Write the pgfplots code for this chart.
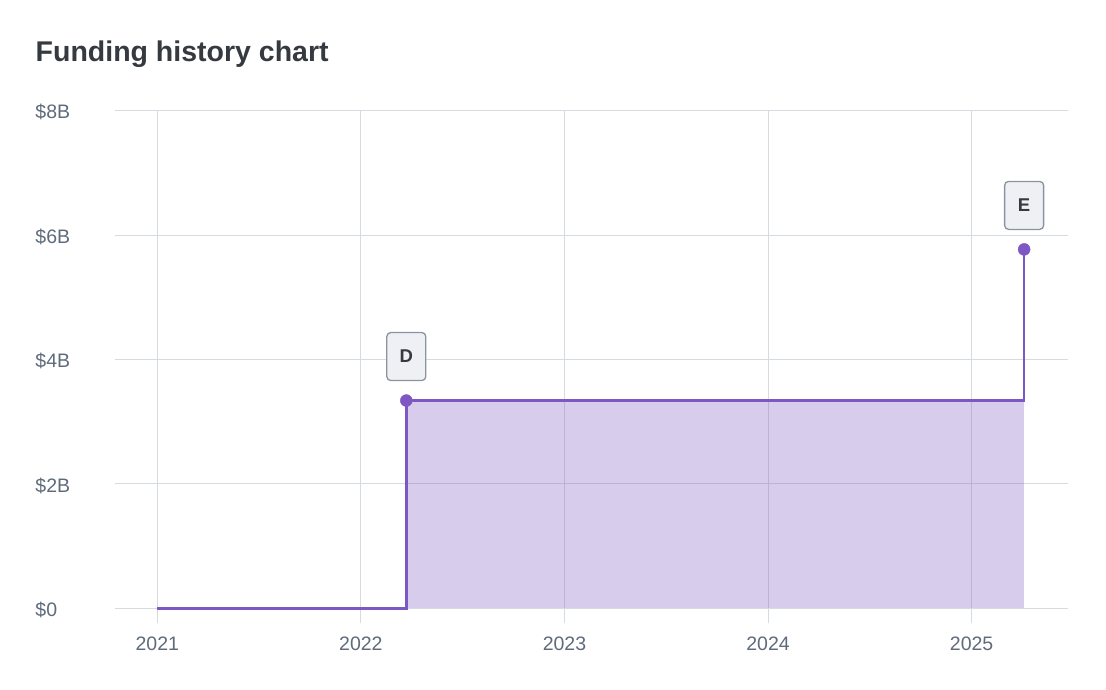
\documentclass[border=0pt]{standalone}
\usepackage{fontspec}
\setmainfont{Liberation Sans}
\usepackage{pgfplots}
\pgfplotsset{compat=1.18}
\definecolor{titlec}{HTML}{343A40}
\definecolor{tickc}{HTML}{5F6B7A}
\definecolor{gridc}{HTML}{D6DAE1}
\definecolor{purp}{HTML}{7E57C2}
\definecolor{boxfill}{HTML}{EEF0F4}
\definecolor{boxdraw}{HTML}{8B949E}
\begin{document}
\begin{tikzpicture}[x=1pt,y=1pt]
\path[use as bounding box] (0,0) rectangle (1106,690);
\node[anchor=base west, inner sep=0pt, text=titlec, font=\fontsize{28.5}{34}\selectfont\bfseries] at (35.5,628.3) {Funding history chart};
\begin{axis}[
  at={(115pt,81.7pt)}, anchor=south west,
  scale only axis, width=952.7pt, height=497.6pt,
  xmin=2020.792, xmax=2025.472, ymin=0, ymax=8,
  axis line style={draw=none},
  grid=major, grid style={gridc, line width=1pt},
  xtick={2021,2022,2023,2024,2025}, ytick={0,2,4,6,8},
  xticklabels={2021,2022,2023,2024,2025},
  yticklabels={\$0,\$2B,\$4B,\$6B,\$8B},
  xtick pos=bottom, ytick pos=left,
  tick align=outside,
  xtick style={draw=gridc, line width=1pt},
  major tick length=15pt,
  ytick style={draw=none},
  ticklabel style={font=\fontsize{19.5}{23}\selectfont, text=tickc, inner sep=0pt},
  xticklabel style={anchor=base, yshift=-27.7pt},
  yticklabel style={anchor=base west, xshift=-64.8pt, yshift=-8.3pt},
  clip=false,
]
\addplot[draw=none, fill=purp, fill opacity=0.3] coordinates {(2022.223,0) (2022.223,3.34) (2025.258,3.34) (2025.258,0)} -- cycle;
\addplot[purp, line width=2.5pt, mark=none] coordinates {(2021,0) (2022.223,0) (2022.223,3.34) (2025.258,3.34) (2025.258,5.77)};
\addplot[only marks, mark=*, mark size=6pt, purp,
  nodes near coords, point meta=explicit symbolic,
  every node near coord/.append style={anchor=center, yshift=44pt, draw=boxdraw, line width=1.3pt, fill=boxfill, rounded corners=4pt, minimum width=39pt, minimum height=48pt, inner sep=0pt, text=titlec, font=\fontsize{18.5}{22}\selectfont\bfseries}]
  table[meta=label, row sep=\\] {x y label \\ 2022.223 3.34 D \\ 2025.258 5.77 E \\};
\end{axis}
\end{tikzpicture}
\end{document}
